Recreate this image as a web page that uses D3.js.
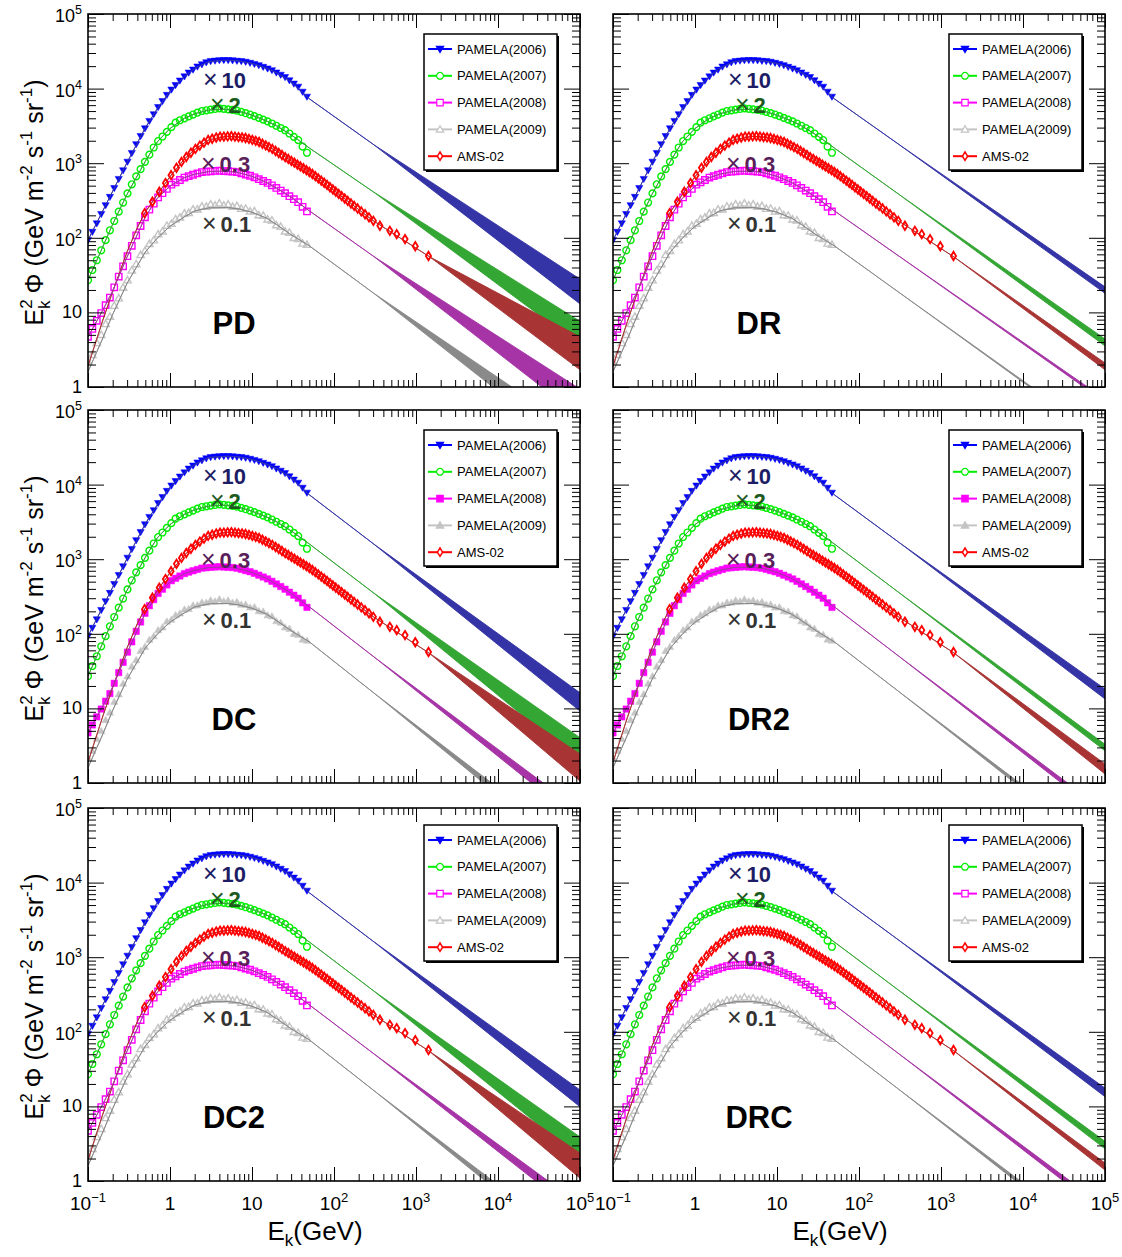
<!DOCTYPE html>
<html>
<head>
<meta charset="utf-8">
<script src="https://cdn.jsdelivr.net/npm/d3@7"></script>
<style>
body { margin: 0; background: #fff; }
text { font-family: "Liberation Sans", Arial, Helvetica, sans-serif; }
</style>
</head>
<body>
<div id="chart"></div>
<script>
// ---- data ----
var panelNames = ["PD", "DR", "DC", "DR2", "DC2", "DRC"];
var filledMarks = [false, false, true, true, false, false];
var seriesNames = ["PAMELA(2006)", "PAMELA(2007)", "PAMELA(2008)", "PAMELA(2009)", "AMS-02"];
var scaleTexts = ["10", "2", "0.3", "0.1"];

var pamelaE = [0.100,0.113,0.128,0.145,0.164,0.185,0.209,0.237,0.268,0.303,0.342,0.387,0.438,0.495,0.560,0.633,0.716,0.810,0.916,1.04,
  1.17,1.32,1.50,1.69,1.91,2.16,2.45,2.77,3.13,3.54,4.00,4.53,5.12,5.79,6.55,7.40,8.37,9.47,10.7,12.1,
  13.7,15.5,17.5,19.8,22.4,25.3,28.6,32.4,36.6,41.4,46.8];
var pamela2006 = [93,120,156,208,273,353,463,614,802,1045,1368,1795,2310,2930,3680,4530,5650,6780,8220,9690,
  11140,12800,14550,16360,17950,19730,21130,22480,23280,23650,24000,24100,24050,23880,23550,23280,22860,22130,21380,20560,
  19540,18570,17620,16410,15310,14260,12910,11640,10590,9070,7780];
var pamela2007 = [27,37,50,68,93,126,168,224,297,394,521,666,832,1042,1300,1623,1982,2280,2630,3047,
  3490,3767,4000,4236,4487,4753,5012,5117,5224,5333,5430,5345,5272,5200,5058,4864,4677,4487,4276,4055,
  3837,3631,3404,3177,2965,2767,2500,2254,2042,1667,1380];
var pamela2008 = [4.7,6.0,7.7,9.8,12.5,15.8,21.7,30.2,41.4,56.8,78,108,144,188,238,287,348,396,452,515,
  555,595,641,671,700,729,760,769,778,787,794,785,780,773,757,731,703,679,647,611,
  577,544,505,466,430,396,361,329,300,260,226];
var pamela2009 = [2.2,2.7,3.9,5.0,7.0,8.8,12.3,15.5,21.5,27,36.5,44.5,59,67,83,93,112,122,146,155,
  178,188,212,216,240,241,263,262,281,272,290,273,280,262,268,246,247,226,228,202,
  199,177,172,148,141,122,117,100,97,84,81];

var amsE = [0.49,0.61,0.74,0.88,1.03,1.20,1.38,1.58,1.80,2.04,2.31,2.60,2.92,3.27,3.66,4.08,4.54,5.05,5.60,6.20,
  6.85,7.56,8.34,9.18,10.1,11.1,12.2,13.4,14.7,16.1,17.7,19.4,21.2,23.2,25.4,27.7,30.2,32.9,35.8,38.9,
  42.4,46.1,50.1,54.5,59.2,64.3,69.9,75.9,82.3,89.3,97,105,114,124,135,147,161,176,194,215,
  239,267,302,363,480,582,735,980,1420];
var amsFlux = [214,304,414,542,691,868,1040,1211,1380,1552,1724,1884,2050,2128,2208,2265,2275,2290,2300,2270,
  2240,2213,2178,2113,2051,1993,1923,1824,1733,1645,1555,1458,1371,1288,1205,1140,1074,1016,959,906,
  855,807,762,716,670,627,585,547,512,476,444,415,387,361,336,312,288,268,247,226,
  207,188,169,145,124,112,96,77,57];

// model curves below 50 GeV (same fits in every panel)
var modelE = [0.1,0.15,0.2,0.3,0.5,0.7,1,1.5,2,3,5,7,10,15,20,30,50];
var model2006 = [93,225,421,1023,2985,5380,9250,14550,18620,23120,24000,23440,21780,18840,16330,12420,7300];
var model2007 = [27,74,152,385,1059,1932,2917,4000,4590,5180,5280,4955,4410,3680,3160,2400,1600];
var model2008 = [4.7,10.5,19.4,55.5,190,339,494,641,711,775,782,743,667,553,462,350,230];
var model2009 = [1.6,4.4,9.4,24.6,64.5,99,143,191,229,252,255,243,220,184,150,110,78];
var amsModelE = [0.1,0.15,0.2,0.3,0.4,0.49,0.7,1,1.5,2,3,5,7,10,15,20,30,50];
var amsModel = [1.9,7.6,19,65,137,214,379,660,1140,1524,2065,2290,2234,2060,1714,1452,1079,770];

// model at 300 GeV, per panel (PD, DR, DC, DR2, DC2, DRC)
var m300_2006 = [1795,1815,1620,1714,1637,1718];
var m300_2007 = [415,389,357,364,358,365];
var m300_2008 = [57,57.8,50,50.9,51.6,51.6];
var m300_2009 = [18.3,18.9,16.4,17.1,16.6,17.2];
var m300_ams = [170,170,170,170,170,170];
var m1450_ams = [56,55,55,55,55,55];
// band [lo, hi] at 100 TeV, per panel
var b1e5_2006 = [[13,28],[18,22],[9.2,16.2],[13.4,18.2],[9.9,16.6],[13.5,17.6]];
var b1e5_2007 = [[3.6,7.6],[3.55,4.4],[1.87,4.05],[2.7,3.3],[2.0,3.9],[2.7,3.4]];
var b1e5_2008 = [[0.40,0.94],[0.63,0.69],[0.30,0.43],[0.35,0.42],[0.34,0.49],[0.37,0.45]];
var b1e5_2009 = [[0.12,0.24],[0.185,0.2],[0.087,0.125],[0.112,0.137],[0.093,0.13],[0.115,0.14]];
var b1e5_ams = [[1.7,4.7],[1.7,2.1],[1.06,2.45],[1.32,1.8],[1.09,2.37],[1.4,1.74]];

var xMajor = [0.1, 1, 10, 100, 1e3, 1e4, 1e5];
var xMajorExp = ["\u22121", "", "", "2", "3", "4", "5"];
var yMajor = [1, 10, 100, 1e3, 1e4, 1e5];
var yMajorExp = ["", "", "2", "3", "4", "5"];

// ---- layout ----
var W = 1122, H = 1257;
var colX = [88, 613], rowY = [14, 410, 808];
var pw = 492, ph = 373;

var markColors = ["#0000ff", "#00ee00", "#ff00ff", "#c4c4c4", "#ff0000"];
var bandColors = ["#3434a6", "#34a634", "#a634a6", "#8a8a8a", "#a83434"];
var scaleColors = ["#1d1d66", "#1e5a1e", "#5a1e5a", "#333333"];
var markKinds = ["tdown", "circle", "square", "tup", "diamond"];

var svg = d3.select("#chart").append("svg")
  .attr("width", W).attr("height", H);

var x = d3.scaleLog().domain([0.1, 1e5]).range([0, pw]);
var y = d3.scaleLog().domain([1, 1e5]).range([ph, 0]);

var isPow = t => Math.abs(Math.log10(t) - Math.round(Math.log10(t))) < 1e-6;
var xMinor = x.ticks().filter(t => !isPow(t));
var yMinor = y.ticks().filter(t => !isPow(t));

function shape(kind) {
  if (kind === "tdown") return "M-3.6,-2.6L3.6,-2.6L0,3.6Z";
  if (kind === "tup") return "M-3.7,2.7L3.7,2.7L0,-3.7Z";
  if (kind === "square") return "M-3.2,-3.2h6.4v6.4h-6.4Z";
  if (kind === "diamond") return "M0,-4.2L2.6,0L0,4.2L-2.6,0Z";
  return "M3.4,0A3.4,3.4 0 1,1 -3.4,0A3.4,3.4 0 1,1 3.4,0Z";
}
function isFilled(s, p) {
  if (s === 0) return true;
  if (s === 2 || s === 3) return filledMarks[p];
  return false;
}

function drawMarks(g, s, p, es, fs) {
  var pts = es.map((e, k) => [e, fs[k]]);
  var filled = isFilled(s, p);
  g.append("g").selectAll("path").data(pts).join("path")
    .attr("transform", d => `translate(${x(d[0])},${y(d[1])})`)
    .attr("d", shape(markKinds[s]))
    .attr("fill", filled ? markColors[s] : "none")
    .attr("stroke", markColors[s])
    .attr("stroke-width", s === 4 ? 1.8 : (filled ? 0.5 : 1.4));
}

function modelPoints(lowE, lowF, tailE, tailF, band) {
  var pts = lowE.map((e, k) => ({ e: e, lo: lowF[k], hi: lowF[k] }));
  tailE.forEach((e, k) => pts.push({ e: e, lo: tailF[k], hi: tailF[k] }));
  pts.push({ e: 1e5, lo: band[0], hi: band[1] });
  return pts;
}

var area = d3.area()
  .x(d => x(d.e))
  .y0(d => y(d.lo))
  .y1(d => y(d.hi));

function powText(sel, exp, supSize, lift) {
  sel.append("tspan").text(exp === "" ? sel.datum() : "10");
  if (exp !== "") {
    sel.append("tspan").attr("font-size", supSize).attr("dy", -lift).text(exp);
  }
}

panelNames.forEach(function(name, p) {
  var col = p % 2, row = Math.floor(p / 2);
  var g = svg.append("g")
    .attr("transform", `translate(${colX[col]}, ${rowY[row]})`);

  g.append("clipPath").attr("id", "clip" + p)
    .append("rect").attr("width", pw).attr("height", ph);
  var plot = g.append("g").attr("clip-path", `url(#clip${p})`);

  // data points
  drawMarks(plot, 0, p, pamelaE, pamela2006);
  drawMarks(plot, 1, p, pamelaE, pamela2007);
  drawMarks(plot, 2, p, pamelaE, pamela2008);
  drawMarks(plot, 3, p, pamelaE, pamela2009);

  // model curves and bands
  var models = [
    modelPoints(modelE, model2006, [300], [m300_2006[p]], b1e5_2006[p]),
    modelPoints(modelE, model2007, [300], [m300_2007[p]], b1e5_2007[p]),
    modelPoints(modelE, model2008, [300], [m300_2008[p]], b1e5_2008[p]),
    modelPoints(modelE, model2009, [300], [m300_2009[p]], b1e5_2009[p]),
    modelPoints(amsModelE, amsModel, [300, 1450], [m300_ams[p], m1450_ams[p]], b1e5_ams[p])
  ];
  [0, 1, 4, 2, 3].forEach(function(s) {
    plot.append("path")
      .attr("d", area(models[s]))
      .attr("fill", bandColors[s])
      .attr("stroke", bandColors[s])
      .attr("stroke-width", 0.9)
      .attr("stroke-linejoin", "round");
  });

  drawMarks(plot, 4, p, amsE, amsFlux);

  // ticks (inside, all four sides)
  var noDomain = a => a.select(".domain").remove();
  g.append("g").attr("transform", `translate(0,${ph})`)
    .call(d3.axisBottom(x).tickValues(xMinor).tickSize(-7).tickFormat("")).call(noDomain);
  g.append("g").attr("transform", `translate(0,${ph})`)
    .call(d3.axisBottom(x).tickValues(xMajor).tickSize(-14).tickFormat("")).call(noDomain);
  g.append("g")
    .call(d3.axisTop(x).tickValues(xMinor).tickSize(-7).tickFormat("")).call(noDomain);
  g.append("g")
    .call(d3.axisTop(x).tickValues(xMajor).tickSize(-14).tickFormat("")).call(noDomain);
  g.append("g")
    .call(d3.axisLeft(y).tickValues(yMinor).tickSize(-8).tickFormat("")).call(noDomain);
  g.append("g")
    .call(d3.axisLeft(y).tickValues(yMajor).tickSize(-16).tickFormat("")).call(noDomain);
  g.append("g").attr("transform", `translate(${pw},0)`)
    .call(d3.axisRight(y).tickValues(yMinor).tickSize(-8).tickFormat("")).call(noDomain);
  g.append("g").attr("transform", `translate(${pw},0)`)
    .call(d3.axisRight(y).tickValues(yMajor).tickSize(-16).tickFormat("")).call(noDomain);
  g.selectAll(".tick line").attr("stroke", "#000").attr("stroke-width", 1);

  g.append("rect")
    .attr("width", pw).attr("height", ph)
    .attr("fill", "none").attr("stroke", "#000").attr("stroke-width", 1.6);

  // scale factor labels
  var sPos = [[115, 74], [122, 99], [113, 157.5], [114, 217.5]];
  scaleTexts.forEach(function(t, k) {
    var tx = g.append("text")
      .attr("x", sPos[k][0]).attr("y", sPos[k][1])
      .attr("fill", scaleColors[k]);
    tx.append("tspan").attr("font-size", 25).attr("font-weight", "normal").text("\u00d7");
    tx.append("tspan").attr("font-size", 22).attr("font-weight", "bold").attr("dx", 4).text(t);
  });

  // panel name
  g.append("text")
    .attr("x", 146).attr("y", 320)
    .attr("text-anchor", "middle")
    .attr("font-size", 31).attr("font-weight", "bold")
    .text(name);

  // legend
  var lg = g.append("g").attr("transform", `translate(336, ${row === 2 ? 17 : 20})`);
  lg.append("rect").attr("x", 2).attr("y", 2).attr("width", 133).attr("height", 136).attr("fill", "#000");
  lg.append("rect").attr("width", 133).attr("height", 136)
    .attr("fill", "#fff").attr("stroke", "#000").attr("stroke-width", 1.5);
  seriesNames.forEach(function(sn, s) {
    var ly = 15 + s * 26.8;
    lg.append("line").attr("x1", 4).attr("x2", 28).attr("y1", ly).attr("y2", ly)
      .attr("stroke", markColors[s]).attr("stroke-width", 2);
    var filled = isFilled(s, p);
    lg.append("path")
      .attr("transform", `translate(16,${ly})`)
      .attr("d", shape(markKinds[s]))
      .attr("fill", filled ? markColors[s] : "#fff")
      .attr("stroke", markColors[s])
      .attr("stroke-width", s === 4 ? 1.5 : 1.2);
    lg.append("text").attr("x", 33).attr("y", ly + 4.5)
      .attr("font-size", 13).text(sn);
  });

  // y tick labels + title on left column
  if (col === 0) {
    yMajor.forEach(function(v, k) {
      var t = g.append("text").datum(String(v))
        .attr("x", -6).attr("y", y(v) + (yMajorExp[k] === "" ? 6 : 8))
        .attr("text-anchor", "end").attr("font-size", 18);
      powText(t, yMajorExp[k], 12.5, 8);
    });
    var yt = g.append("text")
      .attr("transform", `translate(-45, ${ph / 2 + 2}) rotate(-90)`)
      .attr("text-anchor", "middle").attr("font-size", 25);
    yt.append("tspan").text("E");
    yt.append("tspan").attr("font-size", 17).attr("dy", -11).text("2");
    yt.append("tspan").attr("font-size", 17).attr("dx", -9.5).attr("dy", 18).text("k");
    yt.append("tspan").attr("dy", -7).text(" \u03a6 (GeV m");
    yt.append("tspan").attr("font-size", 17).attr("dy", -11).text("-2");
    yt.append("tspan").attr("dy", 11).text(" s");
    yt.append("tspan").attr("font-size", 17).attr("dy", -11).text("-1");
    yt.append("tspan").attr("dy", 11).text(" sr");
    yt.append("tspan").attr("font-size", 17).attr("dy", -11).text("-1");
    yt.append("tspan").attr("dy", 11).text(")");
  }

  // x tick labels + title on bottom row
  if (row === 2) {
    xMajor.forEach(function(v, k) {
      var t = g.append("text").datum(String(v))
        .attr("x", x(v)).attr("y", ph + 29)
        .attr("text-anchor", "middle").attr("font-size", 19);
      powText(t, xMajorExp[k], 13, 8);
    });
    var xt = g.append("text")
      .attr("x", 227).attr("y", ph + 59)
      .attr("text-anchor", "middle").attr("font-size", 26);
    xt.append("tspan").text("E");
    xt.append("tspan").attr("font-size", 17).attr("dy", 6).text("k");
    xt.append("tspan").attr("dy", -6).text("(GeV)");
  }
});
</script>
</body>
</html>
